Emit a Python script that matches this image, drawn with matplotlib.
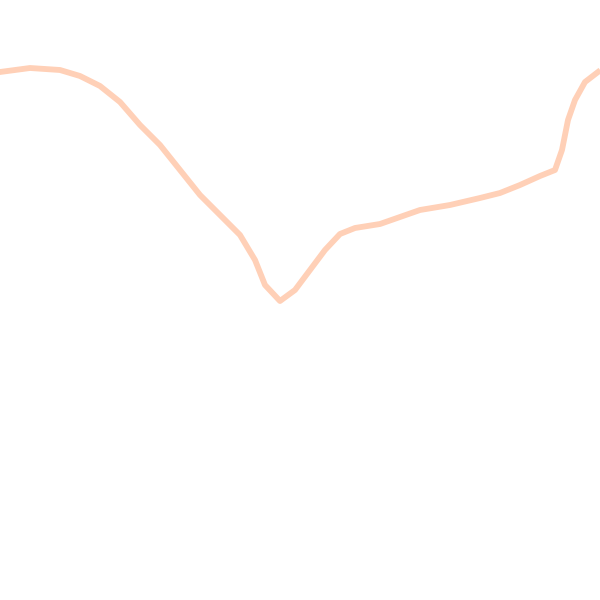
import numpy as np
import matplotlib
matplotlib.use('Agg')
import matplotlib.pyplot as plt

# Data (x position, height)
x = [0, 30, 60, 80, 100, 120, 140, 160, 180, 200, 220, 240, 255, 265, 280,
     295, 310, 325, 340, 355, 380, 400, 420, 450, 480, 500, 520, 540, 555,
     562, 568, 575, 585, 598]
y = [528, 532, 530, 524, 514, 498, 475, 455, 430, 405, 385, 365, 340, 315, 299,
     310, 330, 350, 366, 372, 376, 383, 390, 395, 402, 407, 415, 424, 430,
     450, 480, 500, 518, 528]

fig = plt.figure(figsize=(6, 6), dpi=100)
ax = fig.add_axes([0, 0, 1, 1])
ax.plot(x, y, color='#ffd0b7', linewidth=4.2, solid_joinstyle='round')
ax.set_xlim(0, 600)
ax.set_ylim(0, 600)
ax.axis('off')

fig.savefig('out.png', dpi=100, facecolor='white')
